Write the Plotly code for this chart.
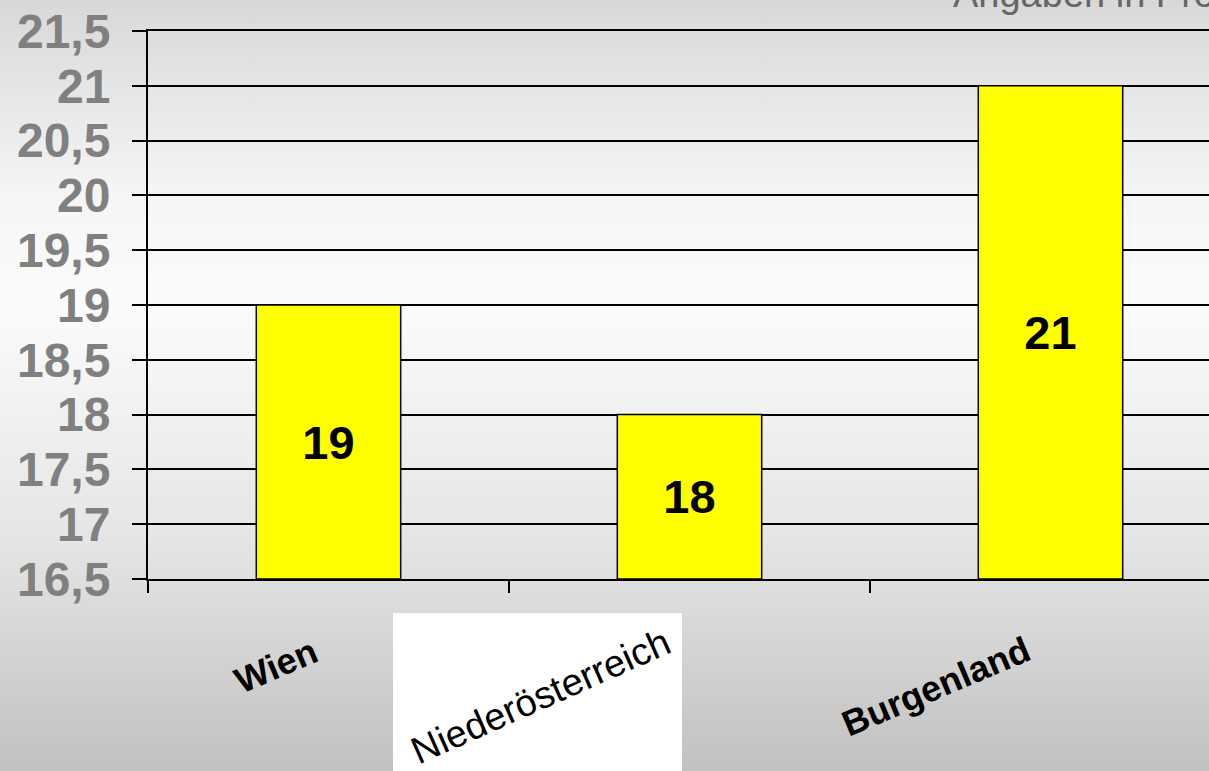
import base64
import plotly.graph_objects as go

# ---- data ----
categories = ["Wien", "Niederösterreich", "Burgenland"]
values = [19, 18, 21]
y_ticks = [16.5, 17, 17.5, 18, 18.5, 19, 19.5, 20, 20.5, 21, 21.5]
y_tick_labels = ["16,5", "17", "17,5", "18", "18,5", "19", "19,5", "20", "20,5", "21", "21,5"]
label_angles = [-23, -24, -23]
note_text = "Angaben in Prozent"

# ---- layout geometry ----
W, H = 1209, 771
ML, MR, MT, MB = 148, 0, 31, 192
PW, PH = W - ML - MR, H - MT - MB
CAT_PX = 361.0
y_min, y_max = y_ticks[0], y_ticks[-1]
x_max = -0.5 + PW / CAT_PX
BOTTOM = H - MB  # pixel row of the x axis


def py(pixel_y):
    """pixel row -> paper y"""
    return (BOTTOM - pixel_y) / PH


def px(pixel_x):
    return (pixel_x - ML) / PW


FONT = "Liberation Sans, Arial, sans-serif"

svg = (
    f'<svg xmlns="http://www.w3.org/2000/svg" width="{W}" height="{H}" preserveAspectRatio="none">'
    '<defs><linearGradient id="g" x1="0" y1="0" x2="0" y2="1">'
    '<stop offset="0" stop-color="#d8d8d8"/>'
    '<stop offset="0.26" stop-color="#f6f6f6"/>'
    '<stop offset="0.40" stop-color="#fbfbfb"/>'
    '<stop offset="0.70" stop-color="#e5e5e5"/>'
    '<stop offset="1" stop-color="#c1c1c1"/>'
    '</linearGradient></defs>'
    f'<rect width="{W}" height="{H}" fill="url(#g)"/></svg>'
)
bg_src = "data:image/svg+xml;base64," + base64.b64encode(svg.encode()).decode()

fig = go.Figure()
fig.add_trace(go.Bar(
    x=categories,
    y=[v - y_min for v in values],
    base=y_min,
    width=0.4,
    marker=dict(color="#ffff00", line=dict(color="black", width=1.5)),
    text=[str(v) for v in values],
    textposition="inside",
    insidetextanchor="middle",
    textangle=0,
    textfont=dict(family=FONT, size=47, color="black", weight="bold"),
    hoverinfo="skip",
))

label_style = {
    "Wien": dict(size=36, weight="bold", top=627, shift=-2),
    "Niederösterreich": dict(size=38, weight="normal", top=617, shift=-10),
    "Burgenland": dict(size=36, weight="bold", top=626, shift=-12),
}

annotations = []
for cat, ang in zip(categories, label_angles):
    st = label_style[cat]
    annotations.append(dict(
        x=cat, xref="x", y=py(st["top"]), yref="paper",
        text=cat, showarrow=False, textangle=ang,
        font=dict(family=FONT, size=st["size"], color="black", weight=st["weight"]),
        xanchor="right", yanchor="top", xshift=st["shift"],
    ))
annotations.append(dict(
    x=px(951), xref="paper", y=py(17), yref="paper",
    text=note_text, showarrow=False, xanchor="left", yanchor="bottom",
    font=dict(family=FONT, size=38, color="#666666"),
))

fig.update_layout(
    width=W, height=H,
    margin=dict(l=ML, r=MR, t=MT, b=MB, pad=0),
    paper_bgcolor="#e6e6e6",
    plot_bgcolor="rgba(0,0,0,0)",
    separators=",.",
    showlegend=False,
    images=[dict(
        source=bg_src, xref="paper", yref="paper",
        x=-ML / PW, y=1 + MT / PH, sizex=W / PW, sizey=H / PH,
        xanchor="left", yanchor="top", sizing="stretch", layer="below",
    )],
    shapes=[dict(
        type="rect", xref="paper", yref="paper",
        x0=px(393), x1=px(682), y0=py(613), y1=py(H + 5),
        fillcolor="white", line=dict(width=0), layer="above",
    )],
    annotations=annotations,
    xaxis=dict(
        type="category", range=[-0.5, x_max],
        tickson="boundaries", ticks="outside", ticklen=12, tickwidth=1.5, tickcolor="black",
        showticklabels=False, showgrid=False,
        showline=True, linecolor="black", linewidth=2, mirror=True,
        fixedrange=True,
    ),
    yaxis=dict(
        range=[y_min, y_max], tickvals=y_ticks, ticktext=y_tick_labels,
        ticks="outside", ticklen=14, tickwidth=1.5, tickcolor="black",
        showgrid=True, gridcolor="black", gridwidth=1.6,
        showline=True, linecolor="black", linewidth=2,
        tickfont=dict(family=FONT, size=48, color="#808080", weight="bold"),
        ticklabelstandoff=12,
        zeroline=False, fixedrange=True,
    ),
)

fig.write_html("out.html", config={"displayModeBar": False},
               post_script="document.body.style.margin='0';document.body.style.overflow='hidden';")
